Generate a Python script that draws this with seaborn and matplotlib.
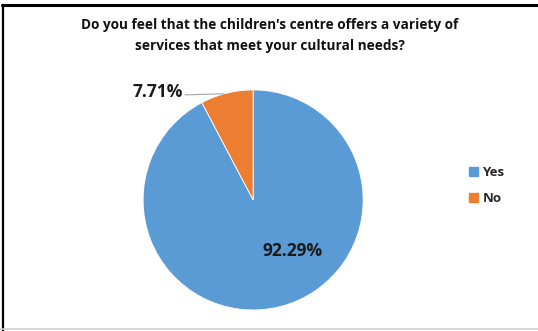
import matplotlib
matplotlib.use("Agg")
import matplotlib.pyplot as plt
import seaborn as sns
from matplotlib.lines import Line2D

categories = ["Yes", "No"]
shares = [92.29, 7.71]
share_labels = ["92.29%", "7.71%"]
colors = ["#5B9BD5", "#ED7D31"]
title = "Do you feel that the children's centre offers a variety of\nservices that meet your cultural needs?"

sns.set_theme(style="white")
plt.rcParams["font.family"] = ["Open Sans", "DejaVu Sans"]

fig = plt.figure(figsize=(5.38, 3.31), dpi=100)
fig.patch.set_facecolor("white")

ax = fig.add_axes([0.266, 0.0634, 0.409, 0.665])
wedges, _ = ax.pie(shares, colors=colors, startangle=90, counterclock=False,
                   wedgeprops=dict(linewidth=0.6, edgecolor="white"))
ax.set_xlim(-1, 1)
ax.set_ylim(-1, 1)
ax.set_aspect("equal")
ax.axis("off")

# value labels
ax.text(0.355, -0.46, share_labels[0], ha="center", va="center",
        fontsize=12.5, fontweight="bold", color="#1a1a1a")
ax.text(-0.87, 0.98, share_labels[1], ha="center", va="center",
        fontsize=12.5, fontweight="bold", color="#1a1a1a", clip_on=False)
ax.plot([-0.62, -0.27], [0.955, 0.965], color="#a6a6a6", lw=0.8, clip_on=False)

# legend
handles = [plt.Rectangle((0, 0), 1, 1, color=c) for c in colors]
fig.legend(handles, categories, loc="center left", bbox_to_anchor=(0.85, 0.44),
           frameon=False, prop=dict(weight="bold", size=9.5),
           handlelength=0.7, handleheight=0.7, handletextpad=0.3, labelspacing=1.0)

fig.suptitle(title, x=0.502, y=0.945, fontsize=9.8, fontweight="bold",
             color="#111111", linespacing=1.6, va="top")

# outer frame
fig.add_artist(Line2D([0.006, 0.006], [0.0, 0.985], transform=fig.transFigure,
                      color="black", lw=1.6))
fig.add_artist(Line2D([0.004, 1.0], [0.984, 0.984], transform=fig.transFigure,
                      color="black", lw=2.2))
fig.add_artist(Line2D([0.0, 1.0], [0.005, 0.005], transform=fig.transFigure,
                      color="#d0d0d0", lw=1.2))

fig.savefig("out.png", dpi=100, facecolor="white")
